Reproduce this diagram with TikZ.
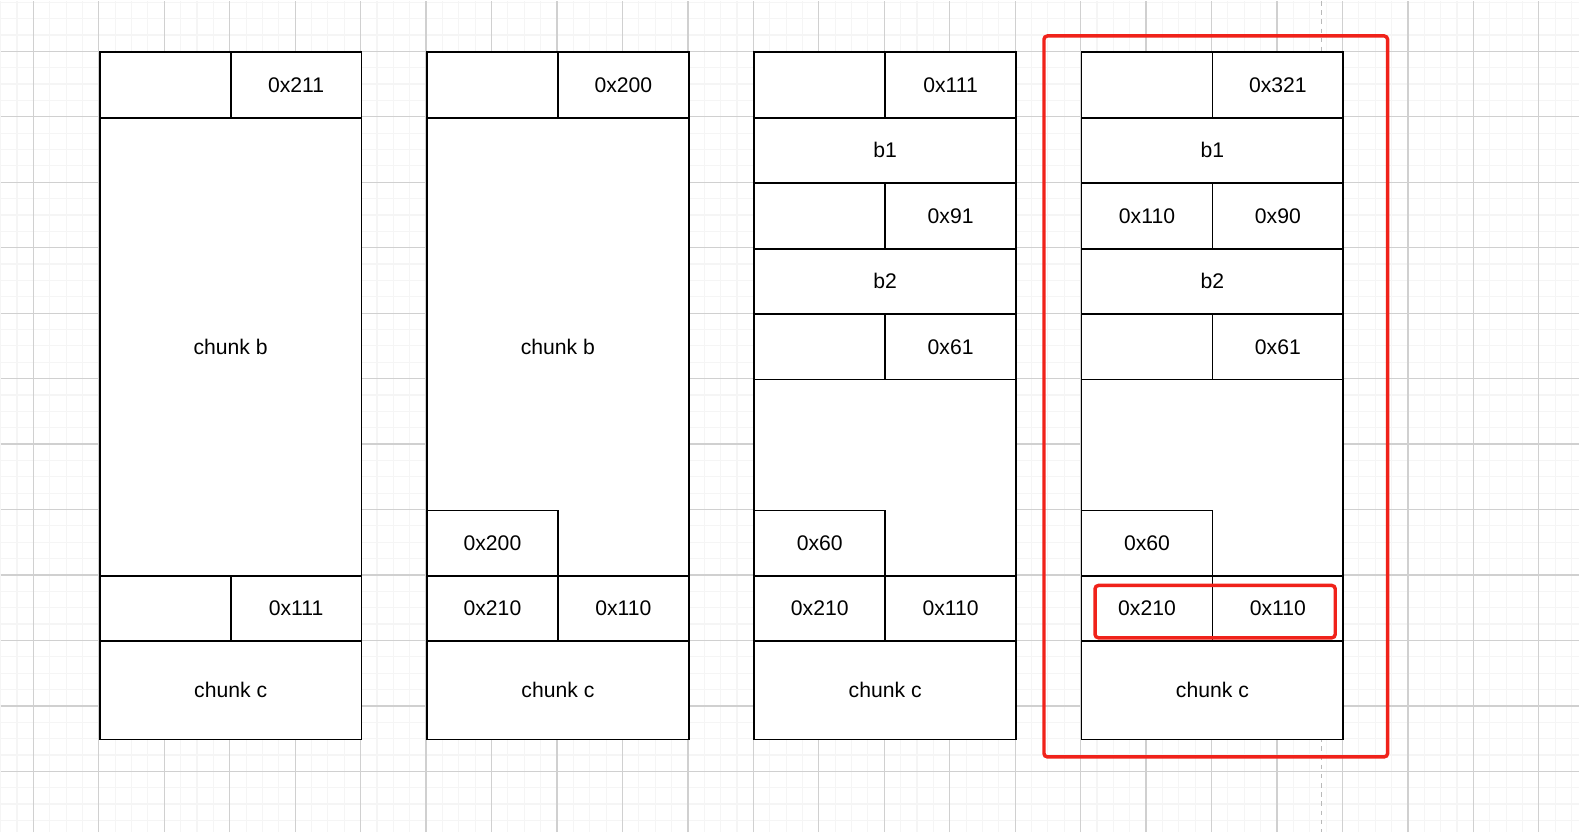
\documentclass[tikz,border=0pt]{standalone}
\usepackage{fontspec}
\setmainfont{Liberation Sans}
\definecolor{gridminor}{RGB}{245,245,245}
\definecolor{gridmajor}{RGB}{208,208,208}
\definecolor{pagebreak}{RGB}{185,185,185}
\definecolor{hilite}{RGB}{240,34,26}
\usetikzlibrary{positioning}

\begin{document}
\begin{tikzpicture}[
    cell/.style={draw, line width=0.8pt, fill=white, inner sep=0pt, anchor=north west,
                 font=\fontsize{9.2}{11}\selectfont},
    half/.style={cell, minimum width=2cm, minimum height=1cm},
    full/.style={cell, minimum width=4cm, minimum height=1cm},
    tall/.style={cell, minimum width=4cm, minimum height=#1 cm},
    frame/.style={draw=hilite, line width=1.5pt, rounded corners=1.5pt}
]
    % background grid
    \fill[white] (-1.5,0.77) rectangle (22.62,-11.93);
    \draw[gridminor, line width=0.5pt, step=0.25] (-1.5,-11.93) grid (22.62,0.77);
    \draw[gridmajor, line width=0.55pt, step=1] (-1.5,-11.93) grid (22.62,0.77);
    \draw[pagebreak, line width=0.8pt, dash pattern=on 2pt off 2pt] (18.68,0.77) -- (18.68,-11.93);
    \useasboundingbox (-1.5,0.77) rectangle (22.62,-11.93);

    % header and chunk c of every column
    \foreach \c/\x/\sz in {1/0/0x211, 2/5/0x200, 3/10/0x111, 4/15/0x321} {
        \node[half] (hd\c a) at (\x,0) {};
        \node[half] (hd\c b) at (\x+2,0) {\sz};
        \node[tall=1.5] (cc\c) at (\x,-9) {chunk c};
    }

    % column 1
    \node[tall=7] (cb1) at (0,-1) {chunk b};
    \node[half] (nx1a) at (0,-8) {};
    \node[half] (nx1b) at (2,-8) {0x111};

    % column 2
    \node[tall=7] (cb2) at (5,-1) {chunk b};
    \node[half] (pv2) at (5,-7) {0x200};
    \node[half] (nx2a) at (5,-8) {0x210};
    \node[half] (nx2b) at (7,-8) {0x110};

    % column 3 and 4
    \foreach \c/\x/\pa/\pb in {3/10//0x91, 4/15/0x110/0x90} {
        \node[full] (bo\c) at (\x,-1) {b1};
        \node[half] (sa\c a) at (\x,-2) {\pa};
        \node[half] (sa\c b) at (\x+2,-2) {\pb};
        \node[full] (bt\c) at (\x,-3) {b2};
        \node[half] (sb\c a) at (\x,-4) {};
        \node[half] (sb\c b) at (\x+2,-4) {0x61};
        \node[tall=3] (fr\c) at (\x,-5) {};
        \node[half] (pv\c) at (\x,-7) {0x60};
        \node[half] (nx\c a) at (\x,-8) {0x210};
        \node[half] (nx\c b) at (\x+2,-8) {0x110};
    }

    % highlight
    \draw[frame] (14.44,0.235) rectangle (19.69,-10.78);
    \draw[frame] (15.22,-8.16) rectangle (18.89,-8.96);
\end{tikzpicture}
\end{document}
